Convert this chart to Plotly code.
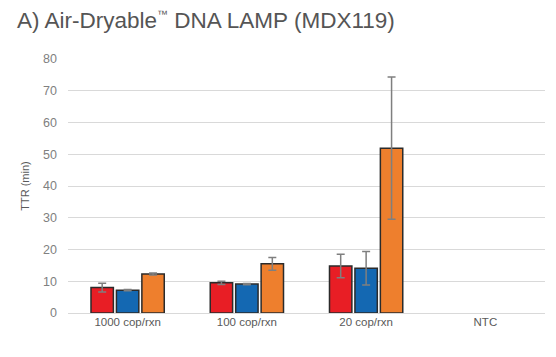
import plotly.graph_objects as go

categories = ["1000 cop/rxn", "100 cop/rxn", "20 cop/rxn", "NTC"]
series_names = ["Replicate set 1", "Replicate set 2", "Replicate set 3"]
red_vals = [8.0, 9.5, 14.8, None]
red_err = [1.4, 0.5, 3.7, 0]
blue_vals = [7.2, 9.1, 14.1, None]
blue_err = [0.2, 0.2, 5.3, 0]
orange_vals = [12.3, 15.5, 51.9, None]
orange_err = [0.3, 2.0, 22.4, 0]
y_ticks = [0, 10, 20, 30, 40, 50, 60, 70, 80]

colors = ["#E81E25", "#1468B2", "#EE7F2D"]

fig = go.Figure()
for name, vals, errs, col in zip(series_names,
                                 [red_vals, blue_vals, orange_vals],
                                 [red_err, blue_err, orange_err], colors):
    fig.add_trace(go.Bar(
        x=categories, y=vals, name=name,
        marker=dict(color=col, line=dict(color="#2b2b2b", width=1.5)),
        error_y=dict(type="data", array=errs, visible=True,
                     color="#7f7f7f", thickness=1.5, width=4),
    ))

fig.update_layout(
    width=556, height=357,
    margin=dict(l=68, r=11, t=59, b=44),
    paper_bgcolor="white", plot_bgcolor="white",
    barmode="group", bargap=0.36, bargroupgap=0.12,
    showlegend=False,
    font=dict(family="Liberation Sans, Arial, sans-serif", color="#595959"),
    title=dict(text="A) Air-Dryable<sup><span style='font-size:11px'>\u2122</span></sup> DNA LAMP (MDX119)",
               xref="container", x=17/556, xanchor="left",
               yref="container", y=1 - 20/357, yanchor="middle",
               font=dict(size=22.5, color="#555555",
                         family="Liberation Sans, Arial, sans-serif")),
)
fig.update_xaxes(showgrid=False, showline=False, ticks="",
                 tickfont=dict(size=11.5, color="#595959"))
fig.update_yaxes(range=[0, 80], tickvals=y_ticks, showgrid=True,
                 gridcolor="#d9d9d9", gridwidth=1, zeroline=True,
                 zerolinecolor="#d9d9d9", zerolinewidth=1,
                 tickfont=dict(size=12.5, color="#808080"), ticklabelstandoff=10,
                 title=dict(text="TTR (min)", font=dict(size=11, color="#595959"),
                            standoff=11))

fig.write_html("out.html", config={"displayModeBar": False})
with open("out.html", "r", encoding="utf-8") as f:
    html = f.read()
html = html.replace("<body>", '<body style="margin:0;padding:0">', 1)
with open("out.html", "w", encoding="utf-8") as f:
    f.write(html)
